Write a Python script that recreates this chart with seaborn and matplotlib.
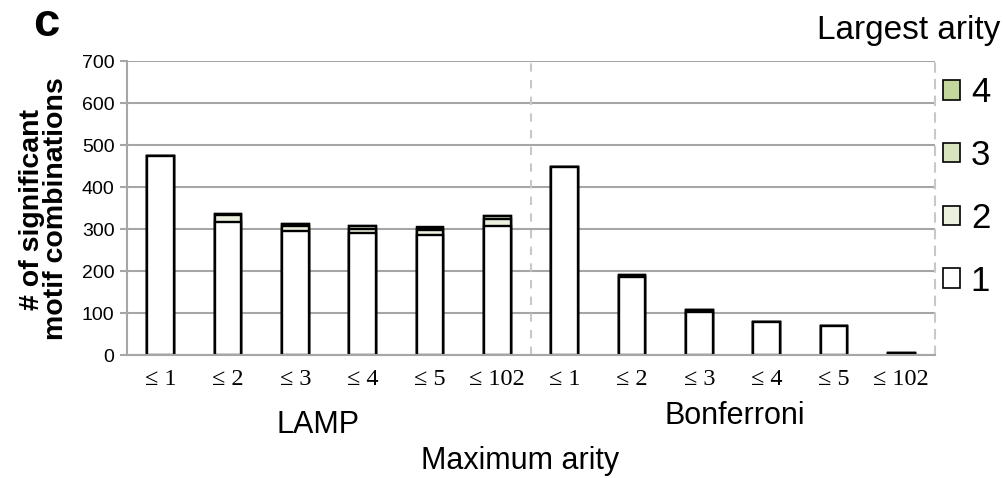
import numpy as np
import pandas as pd
import seaborn as sns
import matplotlib
matplotlib.use("Agg")
import matplotlib.pyplot as plt
from matplotlib.patches import Patch

# ---- data ----
groups = ["LAMP"] * 6 + ["Bonferroni"] * 6
max_arity = ["≤ 1", "≤ 2", "≤ 3", "≤ 4", "≤ 5", "≤ 102"] * 2
arity1 = [473, 317, 296, 290, 286, 308, 448, 186, 103, 78, 70, 3]
arity2 = [0, 17, 11, 11, 11, 17, 0, 3, 4, 0, 0, 1]
arity3 = [0, 1, 4, 5, 5, 5, 0, 1, 1, 0, 0, 0]
arity4 = [0, 0, 2, 2, 2, 2, 0, 0, 0, 0, 0, 0]
legend_labels = ["1", "2", "3", "4"]
colors = ["#ffffff", "#ebf1de", "#d7e4bd", "#c3d69b"]
y_ticks = [0, 100, 200, 300, 400, 500, 600, 700]

sns.set_theme(style="white")
plt.rcParams['font.family'] = ['Liberation Sans', 'DejaVu Sans']
plt.rcParams['text.color'] = 'black'
plt.rcParams['xtick.color'] = 'black'
plt.rcParams['ytick.color'] = 'black'

slots = [f"{g} {m}" for g, m in zip(groups, max_arity)]
df = pd.DataFrame({"slot": slots})
cum = np.cumsum(np.array([arity1, arity2, arity3, arity4]), axis=0)

W, H = 1006, 478
fig = plt.figure(figsize=(W / 100, H / 100), dpi=100)
ax = fig.add_axes([127 / W, 1 - 355 / H, (935 - 127) / W, (355 - 61) / H])

grid_c = "#a6a6a6"
for k in range(3, -1, -1):
    df["h"] = cum[k]
    sns.barplot(data=df, x="slot", y="h", order=slots, color=colors[k],
                saturation=1, edgecolor="black", linewidth=1.7, width=0.4,
                errorbar=None, ax=ax)

ax.set_xlim(-0.5, 11.5)
ax.set_ylim(0, 700)
ax.set_yticks(y_ticks)
ax.yaxis.grid(True, color=grid_c, lw=1.5)
ax.set_axisbelow(True)
ax.set_xlabel("")
ax.set_ylabel("")

for s in ["left", "bottom"]:
    ax.spines[s].set_color(grid_c)
    ax.spines[s].set_linewidth(1.5)
ax.spines["top"].set_visible(False)
ax.spines["right"].set_color("#c8c8c8")
ax.spines["right"].set_linewidth(1.5)
ax.spines["right"].set_linestyle((0, (4, 4)))
ax.axvline(5.5, color="#c8c8c8", lw=1.5, ls=(0, (4, 4)), zorder=0.6)

ax.tick_params(axis="y", left=True, length=5, width=1.5, color=grid_c,
               labelsize=14, pad=4, labelcolor="black")
ax.set_xticks(range(len(slots)))
ax.set_xticklabels(max_arity, fontfamily=["Liberation Serif", "DejaVu Serif"],
                   fontsize=17.5)
ax.tick_params(axis="x", bottom=False, length=0, pad=10, labelcolor="black")

fig.text(44 / W, 1 - 209 / H, "# of significant\nmotif combinations",
         rotation=90, ha="center", va="center", fontsize=20.5,
         fontweight="bold", linespacing=0.9)
fig.text(318 / W, 1 - 425 / H, "LAMP", ha="center", va="center", fontsize=22)
fig.text(735 / W, 1 - 416 / H, "Bonferroni", ha="center", va="center", fontsize=22)
fig.text(520 / W, 1 - 461 / H, "Maximum arity", ha="center", va="center", fontsize=22)
fig.text(1000 / W, 1 - 31 / H, "Largest arity", ha="right", va="center", fontsize=24)
fig.text(46 / W, 1 - 24 / H, "c", ha="center", va="center", fontsize=34,
         fontweight="bold")

handles = [Patch(facecolor=colors[k], edgecolor="black", lw=1.2) for k in range(3, -1, -1)]
labels = [legend_labels[k] for k in range(3, -1, -1)]
fig.legend(handles, labels, loc="upper left", bbox_to_anchor=(943 / W, 1 - 76 / H),
           frameon=False, fontsize=25, handlelength=0.5, handleheight=0.5,
           handletextpad=0.3, labelspacing=0.86, borderpad=0, borderaxespad=0)

fig.savefig("out.png", dpi=100)
